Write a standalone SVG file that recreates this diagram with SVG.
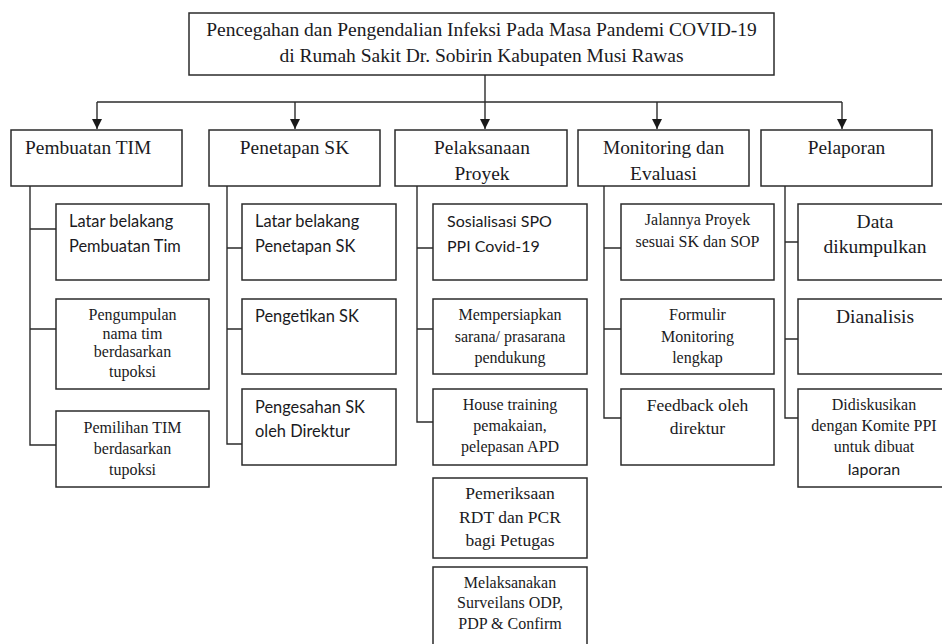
<svg xmlns="http://www.w3.org/2000/svg" width="942" height="644" viewBox="0 0 942 644">
<style>
.box{fill:#fff;stroke:#2b2b2b;stroke-width:1.5}
.ln{fill:none;stroke:#2b2b2b;stroke-width:1.4}
.t{font-family:"Liberation Serif","Times New Roman",serif;fill:#1a1a22}
.s{font-family:Lato,"Liberation Sans",sans-serif;fill:#1a1a22}
.c{text-anchor:middle}
.h{font-size:19.4px}
</style>
<defs>
<marker id="arr" viewBox="0 0 10 10" refX="10" refY="5" markerWidth="10" markerHeight="10" markerUnits="userSpaceOnUse" orient="auto">
<path d="M0,0 L10,5 L0,10 z" fill="#1a1a1a"/>
</marker>
</defs>
<rect width="942" height="644" fill="#fff"/>

<g id="connectors">
<path class="ln" d="M485,75 V102"/>
<path class="ln" d="M97,102 H842"/>
<path class="ln" d="M97,102 V129" marker-end="url(#arr)"/>
<path class="ln" d="M295,102 V129" marker-end="url(#arr)"/>
<path class="ln" d="M485,102 V129" marker-end="url(#arr)"/>
<path class="ln" d="M657,102 V129" marker-end="url(#arr)"/>
<path class="ln" d="M842,102 V129" marker-end="url(#arr)"/>
<path class="ln" d="M30,186 V445 H56 M30,229 H56 M30,329 H56"/>
<path class="ln" d="M227,186 V444 H242 M227,248 H242 M227,329 H242"/>
<path class="ln" d="M417,186 V422 H433 M417,248 H433 M417,329 H433"/>
<path class="ln" d="M604,186 V418 H621 M604,248 H621 M604,329 H621"/>
<path class="ln" d="M785,186 V418 H798 M785,242 H798 M785,339 H798"/>
</g>

<g id="title">
<rect class="box" x="189" y="13" width="585" height="62"/>
<text class="t c" x="481.5" y="36" font-size="19.5">Pencegahan dan Pengendalian Infeksi Pada Masa Pandemi COVID-19</text>
<text class="t c" x="481.5" y="62" font-size="19.5">di Rumah Sakit Dr. Sobirin Kabupaten Musi Rawas</text>
</g>

<g id="pembuatan-tim">
<rect class="box" x="11" y="130" width="171" height="56"/>
<text class="t h" x="25" y="154">Pembuatan TIM</text>
</g>
<g id="penetapan-sk">
<rect class="box" x="209" y="130" width="171" height="56"/>
<text class="t c h" x="294.5" y="154">Penetapan SK</text>
</g>
<g id="pelaksanaan-proyek">
<rect class="box" x="395" y="130" width="172" height="56"/>
<text class="t c h" x="482" y="154">Pelaksanaan</text>
<text class="t c h" x="482" y="180">Proyek</text>
</g>
<g id="monitoring-evaluasi">
<rect class="box" x="578" y="130" width="171" height="56"/>
<text class="t c h" x="663.5" y="154">Monitoring dan</text>
<text class="t c h" x="663.5" y="180">Evaluasi</text>
</g>
<g id="pelaporan">
<rect class="box" x="761" y="130" width="171" height="56"/>
<text class="t c h" x="846.5" y="154">Pelaporan</text>
</g>

<g id="latar-tim">
<rect class="box" x="56" y="204" width="153" height="76"/>
<text class="s" x="69" y="227" font-size="16.4">Latar belakang</text>
<text class="s" x="69" y="252" font-size="16.4">Pembuatan Tim</text>
</g>
<g id="pengumpulan">
<rect class="box" x="56" y="299" width="153" height="90"/>
<text class="t c" x="132.5" y="320" font-size="16">Pengumpulan</text>
<text class="t c" x="132.5" y="339" font-size="16">nama tim</text>
<text class="t c" x="132.5" y="357" font-size="16">berdasarkan</text>
<text class="t c" x="132.5" y="377" font-size="16">tupoksi</text>
</g>
<g id="pemilihan">
<rect class="box" x="56" y="411" width="153" height="76"/>
<text class="t c" x="132.5" y="433" font-size="16">Pemilihan TIM</text>
<text class="t c" x="132.5" y="454" font-size="16">berdasarkan</text>
<text class="t c" x="132.5" y="475" font-size="16">tupoksi</text>
</g>

<g id="latar-sk">
<rect class="box" x="242" y="204" width="154" height="76"/>
<text class="s" x="255" y="227" font-size="16.4">Latar belakang</text>
<text class="s" x="255" y="252" font-size="16.4">Penetapan SK</text>
</g>
<g id="pengetikan">
<rect class="box" x="242" y="299" width="154" height="75"/>
<text class="s" x="255" y="322" font-size="16.4">Pengetikan SK</text>
</g>
<g id="pengesahan">
<rect class="box" x="242" y="389" width="154" height="76"/>
<text class="s" x="255" y="413" font-size="16.4">Pengesahan SK</text>
<text class="s" x="255" y="437" font-size="16.4">oleh Direktur</text>
</g>

<g id="sosialisasi">
<rect class="box" x="433" y="204" width="154" height="76"/>
<text class="s" x="447" y="227" font-size="16">Sosialisasi SPO</text>
<text class="s" x="447" y="252" font-size="16">PPI Covid-19</text>
</g>
<g id="mempersiapkan">
<rect class="box" x="433" y="299" width="154" height="75"/>
<text class="t c" x="510" y="320" font-size="16">Mempersiapkan</text>
<text class="t c" x="510" y="342" font-size="16">sarana/ prasarana</text>
<text class="t c" x="510" y="363" font-size="16">pendukung</text>
</g>
<g id="house-training">
<rect class="box" x="433" y="389" width="154" height="76"/>
<text class="t c" x="510" y="410" font-size="16">House training</text>
<text class="t c" x="510" y="431" font-size="16">pemakaian,</text>
<text class="t c" x="510" y="452" font-size="16">pelepasan APD</text>
</g>
<g id="pemeriksaan">
<rect class="box" x="433" y="478" width="154" height="80"/>
<text class="t c" x="510" y="499" font-size="17.5">Pemeriksaan</text>
<text class="t c" x="510" y="523" font-size="17.5">RDT dan PCR</text>
<text class="t c" x="510" y="546" font-size="17.5">bagi Petugas</text>
</g>
<g id="surveilans">
<rect class="box" x="433" y="567" width="154" height="90"/>
<text class="t c" x="510" y="588" font-size="16">Melaksanakan</text>
<text class="t c" x="510" y="608" font-size="16">Surveilans ODP,</text>
<text class="t c" x="510" y="629" font-size="16">PDP &amp; Confirm</text>
</g>

<g id="jalannya">
<rect class="box" x="621" y="204" width="153" height="76"/>
<text class="t c" x="697.5" y="225" font-size="16">Jalannya Proyek</text>
<text class="t c" x="697.5" y="247" font-size="16">sesuai SK dan SOP</text>
</g>
<g id="formulir">
<rect class="box" x="621" y="299" width="153" height="75"/>
<text class="t c" x="697.5" y="320" font-size="16">Formulir</text>
<text class="t c" x="697.5" y="342" font-size="16">Monitoring</text>
<text class="t c" x="697.5" y="363" font-size="16">lengkap</text>
</g>
<g id="feedback">
<rect class="box" x="621" y="389" width="153" height="76"/>
<text class="t c" x="697.5" y="411" font-size="17.5">Feedback oleh</text>
<text class="t c" x="697.5" y="434" font-size="17.5">direktur</text>
</g>

<g id="data">
<rect class="box" x="798" y="204" width="150" height="76"/>
<text class="t c" x="875" y="228" font-size="19.5">Data</text>
<text class="t c" x="875" y="253" font-size="19.5">dikumpulkan</text>
</g>
<g id="dianalisis">
<rect class="box" x="798" y="299" width="150" height="75"/>
<text class="t c" x="875" y="323" font-size="19.5">Dianalisis</text>
</g>
<g id="didiskusikan">
<rect class="box" x="798" y="389" width="150" height="98"/>
<text class="t c" x="874" y="410" font-size="16">Didiskusikan</text>
<text class="t c" x="874" y="431" font-size="16">dengan Komite PPI</text>
<text class="t c" x="874" y="452" font-size="16">untuk dibuat</text>
<text class="s c" x="874" y="475" font-size="16">laporan</text>
</g>
</svg>
